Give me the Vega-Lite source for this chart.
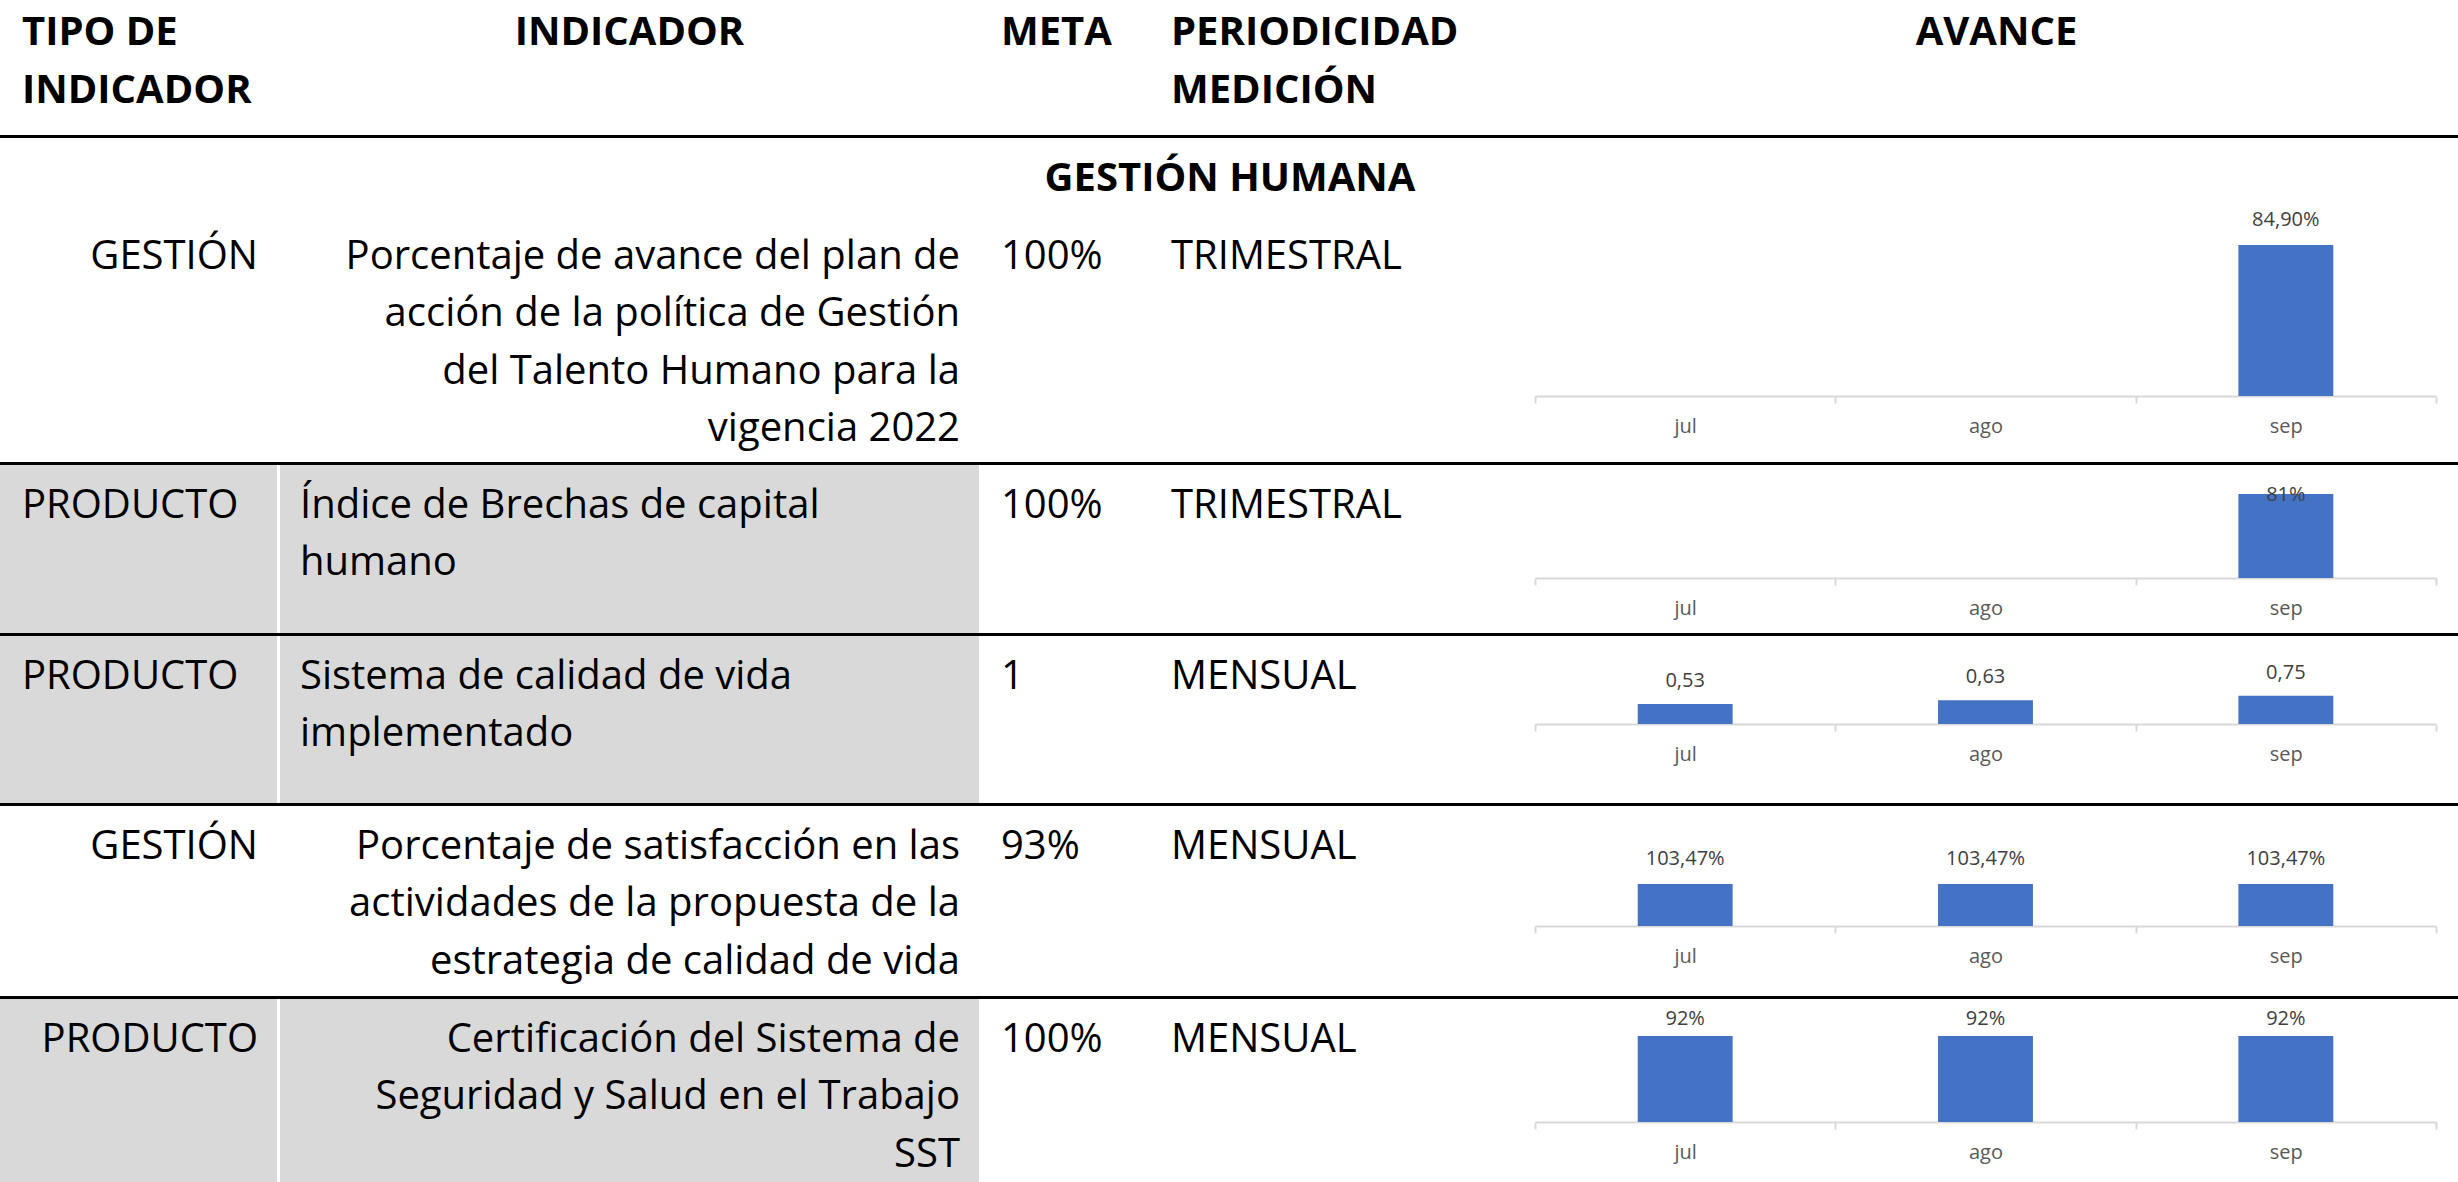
{
  "$schema": "https://vega.github.io/schema/vega-lite/v6.json",
  "background": "#000000",
  "padding": 0,
  "columns": 5,
  "spacing": {"row": 3, "column": 0},
  "bounds": "flush",
  "config": {
    "view": {"stroke": null, "fill": "#ffffff"},
    "font": "Open Sans",
    "text": {"font": "Open Sans", "fontSize": 40, "baseline": "alphabetic", "lineBreak": "\n", "lineHeight": 57.5, "color": "#000000"},
    "locale": {"number": {"decimal": ",", "thousands": ".", "grouping": [3], "currency": ["$", ""]}}
  },
  "datasets": {
    "tabla": [
      {"fila": 0, "col": "tipo", "texto": "TIPO DE\nINDICADOR"},
      {"fila": 0, "col": "ind", "texto": "INDICADOR"},
      {"fila": 0, "col": "meta", "texto": "META"},
      {"fila": 0, "col": "per", "texto": "PERIODICIDAD\nMEDICIÓN"},
      {"fila": 0, "col": "avance", "texto": "AVANCE"},
      {"fila": 0, "col": "titulo", "texto": "GESTIÓN HUMANA"},
      {"fila": 1, "col": "tipo", "texto": "GESTIÓN"},
      {"fila": 1, "col": "ind", "texto": "Porcentaje de avance del plan de\nacción de la política de Gestión\ndel Talento Humano para la\nvigencia 2022"},
      {"fila": 1, "col": "meta", "texto": "100%"},
      {"fila": 1, "col": "per", "texto": "TRIMESTRAL"},
      {"fila": 2, "col": "tipo", "texto": "PRODUCTO"},
      {"fila": 2, "col": "ind", "texto": "Índice de Brechas de capital\nhumano"},
      {"fila": 2, "col": "meta", "texto": "100%"},
      {"fila": 2, "col": "per", "texto": "TRIMESTRAL"},
      {"fila": 3, "col": "tipo", "texto": "PRODUCTO"},
      {"fila": 3, "col": "ind", "texto": "Sistema de calidad de vida\nimplementado"},
      {"fila": 3, "col": "meta", "texto": "1"},
      {"fila": 3, "col": "per", "texto": "MENSUAL"},
      {"fila": 4, "col": "tipo", "texto": "GESTIÓN"},
      {"fila": 4, "col": "ind", "texto": "Porcentaje de satisfacción en las\nactividades de la propuesta de la\nestrategia de calidad de vida"},
      {"fila": 4, "col": "meta", "texto": "93%"},
      {"fila": 4, "col": "per", "texto": "MENSUAL"},
      {"fila": 5, "col": "tipo", "texto": "PRODUCTO"},
      {"fila": 5, "col": "ind", "texto": "Certificación del Sistema de\nSeguridad y Salud en el Trabajo\nSST"},
      {"fila": 5, "col": "meta", "texto": "100%"},
      {"fila": 5, "col": "per", "texto": "MENSUAL"}
    ],
    "avance": [
      {"fila": 1, "mes": "sep", "valor": 0.849},
      {"fila": 2, "mes": "sep", "valor": 0.81},
      {"fila": 3, "mes": "jul", "valor": 0.53},
      {"fila": 3, "mes": "ago", "valor": 0.63},
      {"fila": 3, "mes": "sep", "valor": 0.75},
      {"fila": 4, "mes": "jul", "valor": 1.0347},
      {"fila": 4, "mes": "ago", "valor": 1.0347},
      {"fila": 4, "mes": "sep", "valor": 1.0347},
      {"fila": 5, "mes": "jul", "valor": 0.92},
      {"fila": 5, "mes": "ago", "valor": 0.92},
      {"fila": 5, "mes": "sep", "valor": 0.92}
    ]
  },
  "concat": [
    {"width": 280, "height": 135, "data": {"name": "tabla"}, "transform": [{"filter": "datum.fila == 0 && datum.col == 'tipo'"}],
     "mark": {"type": "text", "align": "left", "dx": 22, "fontWeight": "bold"},
     "encoding": {"x": {"datum": 0, "type": "quantitative", "scale": {"domain": [0, 1], "zero": false, "nice": false}, "axis": null},
                  "y": {"datum": 1, "type": "quantitative", "scale": {"domain": [0.2174, 2.565], "reverse": true, "zero": false, "nice": false}, "axis": null},
                  "text": {"field": "texto"}}},
    {"width": 699, "height": 135, "data": {"name": "tabla"}, "transform": [{"filter": "datum.fila == 0 && datum.col == 'ind'"}],
     "mark": {"type": "text", "align": "center", "fontWeight": "bold"},
     "encoding": {"x": {"datum": 0.5, "type": "quantitative", "scale": {"domain": [0, 1], "zero": false, "nice": false}, "axis": null},
                  "y": {"datum": 1, "type": "quantitative", "scale": {"domain": [0.2174, 2.565], "reverse": true, "zero": false, "nice": false}, "axis": null},
                  "text": {"field": "texto"}}},
    {"width": 171, "height": 135, "data": {"name": "tabla"}, "transform": [{"filter": "datum.fila == 0 && datum.col == 'meta'"}],
     "mark": {"type": "text", "align": "left", "dx": 22, "fontWeight": "bold"},
     "encoding": {"x": {"datum": 0, "type": "quantitative", "scale": {"domain": [0, 1], "zero": false, "nice": false}, "axis": null},
                  "y": {"datum": 1, "type": "quantitative", "scale": {"domain": [0.2174, 2.565], "reverse": true, "zero": false, "nice": false}, "axis": null},
                  "text": {"field": "texto"}}},
    {"width": 385, "height": 135, "data": {"name": "tabla"}, "transform": [{"filter": "datum.fila == 0 && datum.col == 'per'"}],
     "mark": {"type": "text", "align": "left", "dx": 21, "fontWeight": "bold"},
     "encoding": {"x": {"datum": 0, "type": "quantitative", "scale": {"domain": [0, 1], "zero": false, "nice": false}, "axis": null},
                  "y": {"datum": 1, "type": "quantitative", "scale": {"domain": [0.2174, 2.565], "reverse": true, "zero": false, "nice": false}, "axis": null},
                  "text": {"field": "texto"}}},
    {"width": 923, "height": 135, "data": {"name": "tabla"}, "transform": [{"filter": "datum.fila == 0 && datum.col == 'avance'"}],
     "mark": {"type": "text", "align": "center", "fontWeight": "bold"},
     "encoding": {"x": {"datum": 0.5, "type": "quantitative", "scale": {"domain": [0, 1], "zero": false, "nice": false}, "axis": null},
                  "y": {"datum": 1, "type": "quantitative", "scale": {"domain": [0.2174, 2.565], "reverse": true, "zero": false, "nice": false}, "axis": null},
                  "text": {"field": "texto"}}},

    {"width": 280, "height": 324, "data": {"name": "tabla"}, "transform": [{"filter": "datum.fila == 1 && datum.col == 'tipo'"}],
     "mark": {"type": "text", "align": "right", "dx": -22},
     "encoding": {"x": {"datum": 1, "type": "quantitative", "scale": {"domain": [0, 1], "zero": false, "nice": false}, "axis": null},
                  "y": {"datum": 1, "type": "quantitative", "scale": {"domain": [-1.278, 4.357], "reverse": true, "zero": false, "nice": false}, "axis": null},
                  "text": {"field": "texto"}}},
    {"width": 699, "height": 324, "data": {"name": "tabla"}, "transform": [{"filter": "datum.fila == 1 && datum.col == 'ind'"}],
     "mark": {"type": "text", "align": "right", "dx": -19},
     "encoding": {"x": {"datum": 1, "type": "quantitative", "scale": {"domain": [0, 1], "zero": false, "nice": false}, "axis": null},
                  "y": {"datum": 1, "type": "quantitative", "scale": {"domain": [-1.278, 4.357], "reverse": true, "zero": false, "nice": false}, "axis": null},
                  "text": {"field": "texto"}}},
    {"width": 171, "height": 324, "data": {"name": "tabla"}, "transform": [{"filter": "datum.fila == 1 && datum.col == 'meta'"}],
     "mark": {"type": "text", "align": "left", "dx": 22},
     "encoding": {"x": {"datum": 0, "type": "quantitative", "scale": {"domain": [0, 1], "zero": false, "nice": false}, "axis": null},
                  "y": {"datum": 1, "type": "quantitative", "scale": {"domain": [-1.278, 4.357], "reverse": true, "zero": false, "nice": false}, "axis": null},
                  "text": {"field": "texto"}}},
    {"width": 385, "height": 324, "data": {"name": "tabla"},
     "layer": [
       {"transform": [{"filter": "datum.fila == 0 && datum.col == 'titulo'"}],
        "mark": {"type": "text", "align": "center", "dx": 80, "fontWeight": "bold"},
        "encoding": {"x": {"datum": 0, "type": "quantitative", "scale": {"domain": [0, 1], "zero": false, "nice": false}, "axis": null},
                     "y": {"datum": -0.356, "type": "quantitative", "scale": {"domain": [-1.278, 4.357], "reverse": true, "zero": false, "nice": false}, "axis": null},
                     "text": {"field": "texto"}}},
       {"transform": [{"filter": "datum.fila == 1 && datum.col == 'per'"}],
        "mark": {"type": "text", "align": "left", "dx": 21},
        "encoding": {"x": {"datum": 0, "type": "quantitative", "axis": null},
                     "y": {"datum": 1, "type": "quantitative", "axis": null},
                     "text": {"field": "texto"}}}
     ]},
    {"width": 923, "height": 324, "data": {"name": "avance"}, "transform": [{"filter": "datum.fila == 1"}],
     "encoding": {"x": {"field": "mes", "type": "nominal", "title": null, "scale": {"domain": ["jul", "ago", "sep"], "range": [0, 901], "paddingInner": 0, "paddingOuter": 0},
                        "axis": {"offset": -66, "domainColor": "#d9d9d9", "domainWidth": 2, "tickColor": "#d9d9d9", "tickWidth": 2, "tickSize": 7, "tickBand": "extent", "labelFont": "Open Sans", "labelFontSize": 20, "labelColor": "#595959", "labelPadding": 13, "labelAngle": 0, "grid": false}}},
     "layer": [
       {"mark": {"type": "bar", "color": "#4472C4", "width": {"band": 0.316}},
        "encoding": {"y": {"field": "valor", "type": "quantitative", "scale": {"domain": [0, 1.45], "range": [258, 0], "nice": false}, "axis": null}}},
       {"mark": {"type": "text", "fontSize": 20, "color": "#404040", "baseline": "middle", "align": "center", "dy": -25},
        "encoding": {"y": {"field": "valor", "type": "quantitative"}, "text": {"field": "valor", "type": "quantitative", "format": ".2%"}}}
     ]},

    {"width": 280, "height": 168, "view": {"fill": "#d9d9d9"}, "data": {"name": "tabla"}, "transform": [{"filter": "datum.fila == 2 && datum.col == 'tipo'"}],
     "layer": [
       {"mark": {"type": "rule", "color": "#ffffff", "strokeWidth": 6},
        "encoding": {"x": {"datum": 1, "type": "quantitative", "scale": {"domain": [0, 1], "zero": false, "nice": false}, "axis": null}}},
       {"mark": {"type": "text", "align": "left", "dx": 22},
        "encoding": {"x": {"datum": 0, "type": "quantitative", "axis": null},
                     "y": {"datum": 1, "type": "quantitative", "scale": {"domain": [0.0783, 3.0], "reverse": true, "zero": false, "nice": false}, "axis": null},
                     "text": {"field": "texto"}}}
     ]},
    {"width": 699, "height": 168, "view": {"fill": "#d9d9d9"}, "data": {"name": "tabla"}, "transform": [{"filter": "datum.fila == 2 && datum.col == 'ind'"}],
     "mark": {"type": "text", "align": "left", "dx": 20},
     "encoding": {"x": {"datum": 0, "type": "quantitative", "scale": {"domain": [0, 1], "zero": false, "nice": false}, "axis": null},
                  "y": {"datum": 1, "type": "quantitative", "scale": {"domain": [0.0783, 3.0], "reverse": true, "zero": false, "nice": false}, "axis": null},
                  "text": {"field": "texto"}}},
    {"width": 171, "height": 168, "data": {"name": "tabla"}, "transform": [{"filter": "datum.fila == 2 && datum.col == 'meta'"}],
     "mark": {"type": "text", "align": "left", "dx": 22},
     "encoding": {"x": {"datum": 0, "type": "quantitative", "scale": {"domain": [0, 1], "zero": false, "nice": false}, "axis": null},
                  "y": {"datum": 1, "type": "quantitative", "scale": {"domain": [0.0783, 3.0], "reverse": true, "zero": false, "nice": false}, "axis": null},
                  "text": {"field": "texto"}}},
    {"width": 385, "height": 168, "data": {"name": "tabla"}, "transform": [{"filter": "datum.fila == 2 && datum.col == 'per'"}],
     "mark": {"type": "text", "align": "left", "dx": 21},
     "encoding": {"x": {"datum": 0, "type": "quantitative", "scale": {"domain": [0, 1], "zero": false, "nice": false}, "axis": null},
                  "y": {"datum": 1, "type": "quantitative", "scale": {"domain": [0.0783, 3.0], "reverse": true, "zero": false, "nice": false}, "axis": null},
                  "text": {"field": "texto"}}},
    {"width": 923, "height": 168, "data": {"name": "avance"}, "transform": [{"filter": "datum.fila == 2"}],
     "encoding": {"x": {"field": "mes", "type": "nominal", "title": null, "scale": {"domain": ["jul", "ago", "sep"], "range": [0, 901], "paddingInner": 0, "paddingOuter": 0},
                        "axis": {"offset": -55, "domainColor": "#d9d9d9", "domainWidth": 2, "tickColor": "#d9d9d9", "tickWidth": 2, "tickSize": 7, "tickBand": "extent", "labelFont": "Open Sans", "labelFontSize": 20, "labelColor": "#595959", "labelPadding": 13, "labelAngle": 0, "grid": false}}},
     "layer": [
       {"mark": {"type": "bar", "color": "#4472C4", "width": {"band": 0.316}},
        "encoding": {"y": {"field": "valor", "type": "quantitative", "scale": {"domain": [0, 1.09], "range": [113, 0], "nice": false}, "axis": null}}},
       {"mark": {"type": "text", "fontSize": 20, "color": "#404040", "baseline": "middle", "align": "center", "dy": 1},
        "encoding": {"y": {"field": "valor", "type": "quantitative"}, "text": {"field": "valor", "type": "quantitative", "format": ".0%"}}}
     ]},

    {"width": 280, "height": 167, "view": {"fill": "#d9d9d9"}, "data": {"name": "tabla"}, "transform": [{"filter": "datum.fila == 3 && datum.col == 'tipo'"}],
     "layer": [
       {"mark": {"type": "rule", "color": "#ffffff", "strokeWidth": 6},
        "encoding": {"x": {"datum": 1, "type": "quantitative", "scale": {"domain": [0, 1], "zero": false, "nice": false}, "axis": null}}},
       {"mark": {"type": "text", "align": "left", "dx": 22},
        "encoding": {"x": {"datum": 0, "type": "quantitative", "axis": null},
                     "y": {"datum": 1, "type": "quantitative", "scale": {"domain": [0.0783, 2.983], "reverse": true, "zero": false, "nice": false}, "axis": null},
                     "text": {"field": "texto"}}}
     ]},
    {"width": 699, "height": 167, "view": {"fill": "#d9d9d9"}, "data": {"name": "tabla"}, "transform": [{"filter": "datum.fila == 3 && datum.col == 'ind'"}],
     "mark": {"type": "text", "align": "left", "dx": 20},
     "encoding": {"x": {"datum": 0, "type": "quantitative", "scale": {"domain": [0, 1], "zero": false, "nice": false}, "axis": null},
                  "y": {"datum": 1, "type": "quantitative", "scale": {"domain": [0.0783, 2.983], "reverse": true, "zero": false, "nice": false}, "axis": null},
                  "text": {"field": "texto"}}},
    {"width": 171, "height": 167, "data": {"name": "tabla"}, "transform": [{"filter": "datum.fila == 3 && datum.col == 'meta'"}],
     "mark": {"type": "text", "align": "left", "dx": 22},
     "encoding": {"x": {"datum": 0, "type": "quantitative", "scale": {"domain": [0, 1], "zero": false, "nice": false}, "axis": null},
                  "y": {"datum": 1, "type": "quantitative", "scale": {"domain": [0.0783, 2.983], "reverse": true, "zero": false, "nice": false}, "axis": null},
                  "text": {"field": "texto"}}},
    {"width": 385, "height": 167, "data": {"name": "tabla"}, "transform": [{"filter": "datum.fila == 3 && datum.col == 'per'"}],
     "mark": {"type": "text", "align": "left", "dx": 21},
     "encoding": {"x": {"datum": 0, "type": "quantitative", "scale": {"domain": [0, 1], "zero": false, "nice": false}, "axis": null},
                  "y": {"datum": 1, "type": "quantitative", "scale": {"domain": [0.0783, 2.983], "reverse": true, "zero": false, "nice": false}, "axis": null},
                  "text": {"field": "texto"}}},
    {"width": 923, "height": 167, "data": {"name": "avance"}, "transform": [{"filter": "datum.fila == 3"}],
     "encoding": {"x": {"field": "mes", "type": "nominal", "title": null, "scale": {"domain": ["jul", "ago", "sep"], "range": [0, 901], "paddingInner": 0, "paddingOuter": 0},
                        "axis": {"offset": -79, "domainColor": "#d9d9d9", "domainWidth": 2, "tickColor": "#d9d9d9", "tickWidth": 2, "tickSize": 7, "tickBand": "extent", "labelFont": "Open Sans", "labelFontSize": 20, "labelColor": "#595959", "labelPadding": 13, "labelAngle": 0, "grid": false}}},
     "layer": [
       {"mark": {"type": "bar", "color": "#4472C4", "width": {"band": 0.316}},
        "encoding": {"y": {"field": "valor", "type": "quantitative", "scale": {"domain": [0, 2.334], "range": [88, 0], "nice": false}, "axis": null}}},
       {"mark": {"type": "text", "fontSize": 20, "color": "#404040", "baseline": "middle", "align": "center", "dy": -23},
        "encoding": {"y": {"field": "valor", "type": "quantitative"}, "text": {"field": "valor", "type": "quantitative", "format": ".2f"}}}
     ]},

    {"width": 280, "height": 190, "data": {"name": "tabla"}, "transform": [{"filter": "datum.fila == 4 && datum.col == 'tipo'"}],
     "mark": {"type": "text", "align": "right", "dx": -22},
     "encoding": {"x": {"datum": 1, "type": "quantitative", "scale": {"domain": [0, 1], "zero": false, "nice": false}, "axis": null},
                  "y": {"datum": 1, "type": "quantitative", "scale": {"domain": [0.0783, 3.383], "reverse": true, "zero": false, "nice": false}, "axis": null},
                  "text": {"field": "texto"}}},
    {"width": 699, "height": 190, "data": {"name": "tabla"}, "transform": [{"filter": "datum.fila == 4 && datum.col == 'ind'"}],
     "mark": {"type": "text", "align": "right", "dx": -19},
     "encoding": {"x": {"datum": 1, "type": "quantitative", "scale": {"domain": [0, 1], "zero": false, "nice": false}, "axis": null},
                  "y": {"datum": 1, "type": "quantitative", "scale": {"domain": [0.0783, 3.383], "reverse": true, "zero": false, "nice": false}, "axis": null},
                  "text": {"field": "texto"}}},
    {"width": 171, "height": 190, "data": {"name": "tabla"}, "transform": [{"filter": "datum.fila == 4 && datum.col == 'meta'"}],
     "mark": {"type": "text", "align": "left", "dx": 22},
     "encoding": {"x": {"datum": 0, "type": "quantitative", "scale": {"domain": [0, 1], "zero": false, "nice": false}, "axis": null},
                  "y": {"datum": 1, "type": "quantitative", "scale": {"domain": [0.0783, 3.383], "reverse": true, "zero": false, "nice": false}, "axis": null},
                  "text": {"field": "texto"}}},
    {"width": 385, "height": 190, "data": {"name": "tabla"}, "transform": [{"filter": "datum.fila == 4 && datum.col == 'per'"}],
     "mark": {"type": "text", "align": "left", "dx": 21},
     "encoding": {"x": {"datum": 0, "type": "quantitative", "scale": {"domain": [0, 1], "zero": false, "nice": false}, "axis": null},
                  "y": {"datum": 1, "type": "quantitative", "scale": {"domain": [0.0783, 3.383], "reverse": true, "zero": false, "nice": false}, "axis": null},
                  "text": {"field": "texto"}}},
    {"width": 923, "height": 190, "data": {"name": "avance"}, "transform": [{"filter": "datum.fila == 4"}],
     "encoding": {"x": {"field": "mes", "type": "nominal", "title": null, "scale": {"domain": ["jul", "ago", "sep"], "range": [0, 901], "paddingInner": 0, "paddingOuter": 0},
                        "axis": {"offset": -70, "domainColor": "#d9d9d9", "domainWidth": 2, "tickColor": "#d9d9d9", "tickWidth": 2, "tickSize": 7, "tickBand": "extent", "labelFont": "Open Sans", "labelFontSize": 20, "labelColor": "#595959", "labelPadding": 13, "labelAngle": 0, "grid": false}}},
     "layer": [
       {"mark": {"type": "bar", "color": "#4472C4", "width": {"band": 0.316}},
        "encoding": {"y": {"field": "valor", "type": "quantitative", "scale": {"domain": [0, 2.956], "range": [120, 0], "nice": false}, "axis": null}}},
       {"mark": {"type": "text", "fontSize": 20, "color": "#404040", "baseline": "middle", "align": "center", "dy": -25},
        "encoding": {"y": {"field": "valor", "type": "quantitative"}, "text": {"field": "valor", "type": "quantitative", "format": ".2%"}}}
     ]},

    {"width": 280, "height": 183, "view": {"fill": "#d9d9d9"}, "data": {"name": "tabla"}, "transform": [{"filter": "datum.fila == 5 && datum.col == 'tipo'"}],
     "layer": [
       {"mark": {"type": "rule", "color": "#ffffff", "strokeWidth": 6},
        "encoding": {"x": {"datum": 1, "type": "quantitative", "scale": {"domain": [0, 1], "zero": false, "nice": false}, "axis": null}}},
       {"mark": {"type": "text", "align": "right", "dx": -22},
        "encoding": {"x": {"datum": 1, "type": "quantitative", "axis": null},
                     "y": {"datum": 1, "type": "quantitative", "scale": {"domain": [0.0783, 3.261], "reverse": true, "zero": false, "nice": false}, "axis": null},
                     "text": {"field": "texto"}}}
     ]},
    {"width": 699, "height": 183, "view": {"fill": "#d9d9d9"}, "data": {"name": "tabla"}, "transform": [{"filter": "datum.fila == 5 && datum.col == 'ind'"}],
     "mark": {"type": "text", "align": "right", "dx": -19},
     "encoding": {"x": {"datum": 1, "type": "quantitative", "scale": {"domain": [0, 1], "zero": false, "nice": false}, "axis": null},
                  "y": {"datum": 1, "type": "quantitative", "scale": {"domain": [0.0783, 3.261], "reverse": true, "zero": false, "nice": false}, "axis": null},
                  "text": {"field": "texto"}}},
    {"width": 171, "height": 183, "data": {"name": "tabla"}, "transform": [{"filter": "datum.fila == 5 && datum.col == 'meta'"}],
     "mark": {"type": "text", "align": "left", "dx": 22},
     "encoding": {"x": {"datum": 0, "type": "quantitative", "scale": {"domain": [0, 1], "zero": false, "nice": false}, "axis": null},
                  "y": {"datum": 1, "type": "quantitative", "scale": {"domain": [0.0783, 3.261], "reverse": true, "zero": false, "nice": false}, "axis": null},
                  "text": {"field": "texto"}}},
    {"width": 385, "height": 183, "data": {"name": "tabla"}, "transform": [{"filter": "datum.fila == 5 && datum.col == 'per'"}],
     "mark": {"type": "text", "align": "left", "dx": 21},
     "encoding": {"x": {"datum": 0, "type": "quantitative", "scale": {"domain": [0, 1], "zero": false, "nice": false}, "axis": null},
                  "y": {"datum": 1, "type": "quantitative", "scale": {"domain": [0.0783, 3.261], "reverse": true, "zero": false, "nice": false}, "axis": null},
                  "text": {"field": "texto"}}},
    {"width": 923, "height": 183, "data": {"name": "avance"}, "transform": [{"filter": "datum.fila == 5"}],
     "encoding": {"x": {"field": "mes", "type": "nominal", "title": null, "scale": {"domain": ["jul", "ago", "sep"], "range": [0, 901], "paddingInner": 0, "paddingOuter": 0},
                        "axis": {"offset": -60, "domainColor": "#d9d9d9", "domainWidth": 2, "tickColor": "#d9d9d9", "tickWidth": 2, "tickSize": 7, "tickBand": "extent", "labelFont": "Open Sans", "labelFontSize": 20, "labelColor": "#595959", "labelPadding": 13, "labelAngle": 0, "grid": false}}},
     "layer": [
       {"mark": {"type": "bar", "color": "#4472C4", "width": {"band": 0.316}},
        "encoding": {"y": {"field": "valor", "type": "quantitative", "scale": {"domain": [0, 1.316], "range": [123, 0], "nice": false}, "axis": null}}},
       {"mark": {"type": "text", "fontSize": 20, "color": "#404040", "baseline": "middle", "align": "center", "dy": -17},
        "encoding": {"y": {"field": "valor", "type": "quantitative"}, "text": {"field": "valor", "type": "quantitative", "format": ".0%"}}}
     ]}
  ]
}
